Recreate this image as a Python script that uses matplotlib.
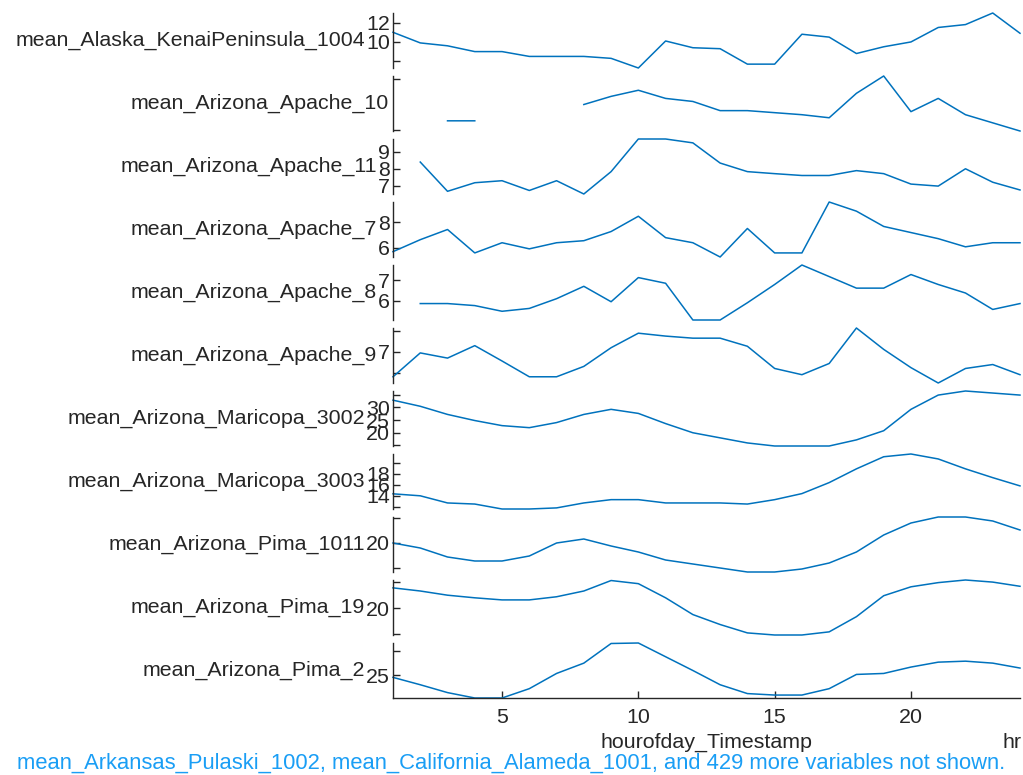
import numpy as np
import matplotlib
matplotlib.use('Agg')
import matplotlib.pyplot as plt

nan = np.nan
hours = np.arange(1, 25)

names = ['mean_Alaska_KenaiPeninsula_1004', 'mean_Arizona_Apache_10', 'mean_Arizona_Apache_11',
         'mean_Arizona_Apache_7', 'mean_Arizona_Apache_8', 'mean_Arizona_Apache_9',
         'mean_Arizona_Maricopa_3002', 'mean_Arizona_Maricopa_3003', 'mean_Arizona_Pima_1011',
         'mean_Arizona_Pima_19', 'mean_Arizona_Pima_2']

alaska_1004 = [11.0, 9.9, 9.6, 9.0, 9.0, 8.5, 8.5, 8.5, 8.3, 7.3, 10.1, 9.4,
               9.3, 7.7, 7.7, 10.8, 10.5, 8.8, 9.5, 10.0, 11.5, 11.8, 13.0, 10.9]
apache_10 = [nan, nan, 5.9, 5.9, nan, nan, nan, 7.5, 8.3, 8.9, 8.1, 7.8,
             6.9, 6.9, 6.7, 6.5, 6.2, 8.6, 10.3, 6.8, 8.1, 6.5, 5.7, 4.9]
apache_11 = [nan, 8.4, 6.66, 7.17, 7.29, 6.71, 7.29, 6.5, 7.83, 9.77, 9.77, 9.54,
             8.34, 7.83, 7.71, 7.6, 7.6, 7.89, 7.71, 7.09, 6.97, 8.0, 7.2, 6.74]
apache_7 = [5.7, 6.64, 7.44, 5.6, 6.4, 5.92, 6.4, 6.56, 7.28, 8.48, 6.8, 6.4,
            5.28, 7.52, 5.6, 5.6, 9.6, 8.88, 7.68, 7.2, 6.72, 6.08, 6.4, 6.4]
apache_8 = [nan, 5.86, 5.86, 5.76, 5.48, 5.62, 6.1, 6.71, 5.95, 7.14, 6.86, 5.05,
            5.05, 5.9, 6.8, 7.76, 7.19, 6.62, 6.62, 7.29, 6.8, 6.38, 5.57, 5.86]
apache_9 = [5.8, 6.95, 6.7, 7.3, 6.56, 5.8, 5.8, 6.3, 7.2, 7.9, 7.76, 7.66,
            7.66, 7.27, 6.2, 5.9, 6.44, 8.15, 7.12, 6.24, 5.5, 6.2, 6.39, 5.9]
maricopa_3002 = [32.8, 30.4, 27.2, 24.8, 22.8, 22.0, 24.0, 27.2, 29.2, 27.6, 23.6, 20.0,
                 18.0, 16.0, 14.8, 14.8, 14.8, 17.2, 20.8, 29.2, 34.8, 36.4, 35.6, 34.8]
maricopa_3003 = [14.36, 14.0, 12.7, 12.5, 11.6, 11.6, 11.8, 12.7, 13.3, 13.3, 12.7, 12.7,
                 12.7, 12.5, 13.3, 14.4, 16.4, 18.9, 21.1, 21.6, 20.7, 18.9, 17.3, 15.8]
pima_1011 = [20.0, 19.0, 17.2, 16.4, 16.4, 17.4, 20.0, 20.8, 19.4, 18.2, 16.6, 15.8,
             15.0, 14.2, 14.2, 14.8, 16.0, 18.2, 21.6, 24.0, 25.2, 25.2, 24.4, 22.6]
pima_19 = [23.9, 23.3, 22.5, 22.0, 21.6, 21.6, 22.2, 23.3, 25.3, 24.7, 22.0, 18.8,
           16.9, 15.3, 14.9, 14.9, 15.5, 18.4, 22.4, 24.1, 24.9, 25.4, 25.0, 24.2]
pima_2 = [24.6, 23.1, 21.5, 20.4, 20.4, 22.3, 25.4, 27.5, 31.5, 31.6, 28.8, 26.0,
          23.1, 21.3, 21.0, 21.0, 22.3, 25.2, 25.4, 26.7, 27.7, 27.9, 27.5, 26.5]

series = [alaska_1004, apache_10, apache_11, apache_7, apache_8, apache_9,
          maricopa_3002, maricopa_3003, pima_1011, pima_19, pima_2]

yticks = [[8, 10, 12], [5, 10], [7, 8, 9], [6, 8], [5, 6, 7], [6, 7, 8],
          [15, 20, 25, 30, 35], [12, 14, 16, 18, 20], [15, 20, 25], [15, 20, 25], [25, 30]]
ytick_labels = [['', '10', '12'], ['', ''], ['7', '8', '9'], ['6', '8'], ['', '6', '7'],
                ['', '7', ''], ['', '20', '25', '30', ''], ['', '14', '16', '18', ''],
                ['', '20', ''], ['', '20', ''], ['25', '']]
xticks = [5, 10, 15, 20]

footer = 'mean_Arkansas_Pulaski_1002, mean_California_Alameda_1001, and 429 more variables not shown.'

plt.rcParams['font.family'] = ['Liberation Sans', 'DejaVu Sans']
plt.rcParams['font.size'] = 15.4

W, H = 1023, 775
fig = plt.figure(figsize=(W / 100, H / 100), dpi=100)

gray = '#262626'
blue = '#0072BD'
left, right = 393, 1020
top0, height, step = 13, 55, 63

for i, (name, vals) in enumerate(zip(names, series)):
    top = top0 + i * step
    ax = fig.add_axes([left / W, 1 - (top + height) / H, (right - left) / W, height / H])
    v = np.array(vals, dtype=float)
    ax.plot(hours, v, color=blue, lw=1.1, clip_on=False)
    lo, hi = np.nanmin(v), np.nanmax(v)
    ax.set_xlim(1, 24)
    for s in ['top', 'right', 'bottom']:
        ax.spines[s].set_visible(False)
    ax.spines['left'].set_color(gray)
    ax.spines['left'].set_linewidth(1.0)
    ax.set_yticks(yticks[i])
    ax.set_yticklabels(ytick_labels[i])
    ax.set_ylim(lo, hi)
    ax.tick_params(axis='y', direction='in', length=5, width=1.0, color=gray,
                   labelcolor=gray, pad=2)
    ax.set_ylabel(name, rotation=0, ha='right', va='center', color=gray, labelpad=1)
    if i == len(names) - 1:
        ax.spines['bottom'].set_visible(True)
        ax.spines['bottom'].set_color(gray)
        ax.spines['bottom'].set_linewidth(1.0)
        ax.set_xticks(xticks)
        ax.tick_params(axis='x', direction='in', length=5, width=1.0, color=gray,
                       labelcolor=gray, pad=7)
    else:
        ax.set_xticks([])
    ax.patch.set_visible(False)

fig.text((left + right) / 2 / W, 1 - 742 / H, 'hourofday_Timestamp', ha='center', va='center', color=gray)
fig.text(1012 / W, 1 - 742 / H, 'hr', ha='center', va='center', color=gray)
fig.text(0.5, 1 - 763 / H, footer, ha='center', va='center', color='#1a9ef5', fontsize=15.8)

fig.savefig('out.png', dpi=100)
